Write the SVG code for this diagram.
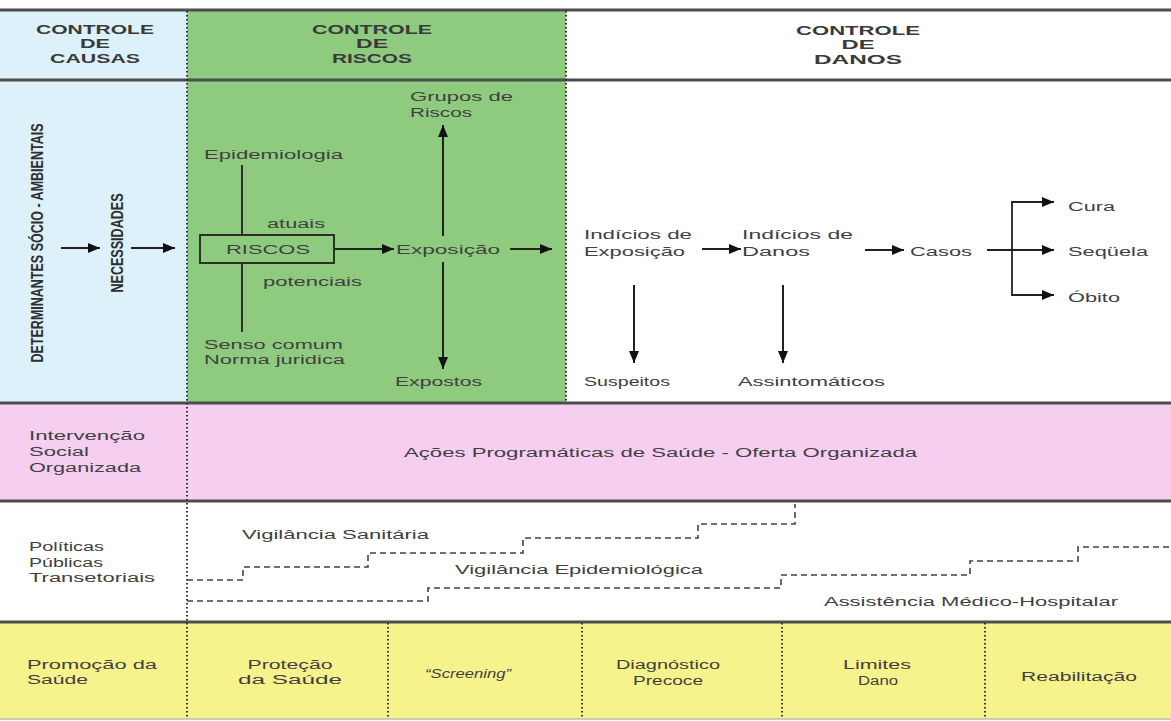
<svg xmlns="http://www.w3.org/2000/svg" width="1171" height="721" viewBox="0 0 1171 721">
<style>
.t{font-family:"Liberation Sans",Arial,sans-serif;font-size:12.5px;fill:#404040}
.h{font-family:"Liberation Sans",Arial,sans-serif;font-size:12px;font-weight:bold;fill:#3a3a3a}
.v{font-family:"Liberation Sans",Arial,sans-serif;font-size:17px;font-weight:bold;fill:#2e2e2e}
.m{text-anchor:middle}
.rule{stroke:#4d4d4d;stroke-width:3;fill:none}
.dot{stroke:#333;stroke-width:2;stroke-dasharray:1.5 2.5;fill:none}
.dash{stroke:#444;stroke-width:1.6;stroke-dasharray:6 4;fill:none}
.ar{stroke:#222;stroke-width:2;fill:none}
.ln{stroke:#222;stroke-width:1.8;fill:none}
</style>
<defs>
<marker id="ah" viewBox="0 0 12 10" refX="12" refY="5" markerWidth="14" markerHeight="10" markerUnits="userSpaceOnUse" orient="auto">
<path d="M0,0 L12,5 L0,10 z" fill="#111"/>
</marker>
</defs>
<rect x="0" y="0" width="1171" height="721" fill="#ffffff"/>
<g id="backgrounds">
<rect x="0" y="10" width="187" height="393" fill="#ddf1fa"/>
<rect x="187" y="10" width="379" height="393" fill="#8fcb7e"/>
<rect x="0" y="403" width="1171" height="98" fill="#f6cef0"/>
<rect x="0" y="622" width="1171" height="97" fill="#f7f38c"/>
</g>
<g id="rules">
<line class="rule" x1="0" y1="10" x2="1171" y2="10"/>
<line class="rule" x1="0" y1="80" x2="1171" y2="80"/>
<line class="rule" x1="0" y1="403" x2="1171" y2="403"/>
<line class="rule" x1="0" y1="501" x2="1171" y2="501"/>
<line class="rule" x1="0" y1="622" x2="1171" y2="622"/>
<line x1="0" y1="719" x2="1171" y2="719" stroke="#bdbdbd" stroke-width="1.5"/>
<line class="dot" x1="187" y1="11" x2="187" y2="719"/>
<line class="dot" x1="566" y1="11" x2="566" y2="402"/>
<line class="dot" x1="388" y1="623" x2="388" y2="719"/>
<line class="dot" x1="582" y1="623" x2="582" y2="719"/>
<line class="dot" x1="782" y1="623" x2="782" y2="719"/>
<line class="dot" x1="985" y1="623" x2="985" y2="719"/>
</g>
<g id="header-causas">
<text class="h m" x="95" y="34" textLength="118" lengthAdjust="spacingAndGlyphs">CONTROLE</text>
<text class="h m" x="95" y="48" textLength="30" lengthAdjust="spacingAndGlyphs">DE</text>
<text class="h m" x="95" y="63" textLength="90" lengthAdjust="spacingAndGlyphs">CAUSAS</text>
</g>
<g id="header-riscos">
<text class="h m" x="372" y="34" textLength="120" lengthAdjust="spacingAndGlyphs">CONTROLE</text>
<text class="h m" x="372" y="48" textLength="32" lengthAdjust="spacingAndGlyphs">DE</text>
<text class="h m" x="372" y="63" textLength="80" lengthAdjust="spacingAndGlyphs">RISCOS</text>
</g>
<g id="header-danos">
<text class="h m" x="858" y="35" textLength="124" lengthAdjust="spacingAndGlyphs">CONTROLE</text>
<text class="h m" x="858" y="49" textLength="33" lengthAdjust="spacingAndGlyphs">DE</text>
<text class="h m" x="858" y="64" textLength="88" lengthAdjust="spacingAndGlyphs">DANOS</text>
</g>
<g id="determinantes">
<text class="v m" transform="translate(37,243) rotate(-90)" x="0" y="6" textLength="239" lengthAdjust="spacingAndGlyphs">DETERMINANTES SÓCIO - AMBIENTAIS</text>
</g>
<g id="necessidades">
<text class="v m" transform="translate(117,243) rotate(-90)" x="0" y="6" textLength="99" lengthAdjust="spacingAndGlyphs">NECESSIDADES</text>
</g>
<g id="riscos">
<rect x="200" y="235" width="134" height="28" fill="none" stroke="#222" stroke-width="1.8"/>
<text class="t" x="226" y="254" textLength="84" lengthAdjust="spacingAndGlyphs" style="font-size:13px">RISCOS</text>
</g>
<g id="epidemiologia"><text class="t" x="204" y="159" textLength="139" lengthAdjust="spacingAndGlyphs">Epidemiologia</text></g>
<g id="atuais"><text class="t" x="267" y="228" textLength="58" lengthAdjust="spacingAndGlyphs">atuais</text></g>
<g id="potenciais"><text class="t" x="263" y="286" textLength="99" lengthAdjust="spacingAndGlyphs">potenciais</text></g>
<g id="senso">
<text class="t" x="204" y="349" textLength="139" lengthAdjust="spacingAndGlyphs">Senso comum</text>
<text class="t" x="204" y="364" textLength="141" lengthAdjust="spacingAndGlyphs">Norma juridica</text>
</g>
<g id="grupos">
<text class="t" x="410" y="101" textLength="103" lengthAdjust="spacingAndGlyphs">Grupos de</text>
<text class="t" x="410" y="117" textLength="62" lengthAdjust="spacingAndGlyphs">Riscos</text>
</g>
<g id="exposicao"><text class="t" x="396" y="254" textLength="104" lengthAdjust="spacingAndGlyphs">Exposição</text></g>
<g id="expostos"><text class="t" x="395" y="386" textLength="87" lengthAdjust="spacingAndGlyphs">Expostos</text></g>
<g id="indicios-exposicao">
<text class="t" x="584" y="239" textLength="108" lengthAdjust="spacingAndGlyphs">Indícios de</text>
<text class="t" x="584" y="256" textLength="101" lengthAdjust="spacingAndGlyphs">Exposição</text>
</g>
<g id="indicios-danos">
<text class="t" x="742" y="239" textLength="111" lengthAdjust="spacingAndGlyphs">Indícios de</text>
<text class="t" x="742" y="256" textLength="68" lengthAdjust="spacingAndGlyphs">Danos</text>
</g>
<g id="casos"><text class="t" x="910" y="256" textLength="62" lengthAdjust="spacingAndGlyphs">Casos</text></g>
<g id="cura"><text class="t" x="1068" y="211" textLength="47" lengthAdjust="spacingAndGlyphs">Cura</text></g>
<g id="sequela"><text class="t" x="1068" y="256" textLength="80" lengthAdjust="spacingAndGlyphs">Seqüela</text></g>
<g id="obito"><text class="t" x="1068" y="302" textLength="52" lengthAdjust="spacingAndGlyphs">Óbito</text></g>
<g id="suspeitos"><text class="t" x="584" y="386" textLength="86" lengthAdjust="spacingAndGlyphs">Suspeitos</text></g>
<g id="assintomaticos"><text class="t" x="738" y="386" textLength="147" lengthAdjust="spacingAndGlyphs">Assintomáticos</text></g>
<g id="intervencao">
<text class="t" x="29" y="440" textLength="116" lengthAdjust="spacingAndGlyphs">Intervenção</text>
<text class="t" x="29" y="456" textLength="60" lengthAdjust="spacingAndGlyphs">Social</text>
<text class="t" x="29" y="472" textLength="112" lengthAdjust="spacingAndGlyphs">Organizada</text>
</g>
<g id="acoes"><text class="t" x="404" y="457" textLength="513" lengthAdjust="spacingAndGlyphs">Ações Programáticas de Saúde - Oferta Organizada</text></g>
<g id="politicas">
<text class="t" x="29" y="551" textLength="75" lengthAdjust="spacingAndGlyphs">Políticas</text>
<text class="t" x="29" y="567" textLength="74" lengthAdjust="spacingAndGlyphs">Públicas</text>
<text class="t" x="29" y="582" textLength="126" lengthAdjust="spacingAndGlyphs">Transetoriais</text>
</g>
<g id="vig-sanitaria"><text class="t" x="242" y="539" textLength="187" lengthAdjust="spacingAndGlyphs">Vigilância Sanitária</text></g>
<g id="vig-epidemiologica"><text class="t" x="455" y="574" textLength="248" lengthAdjust="spacingAndGlyphs">Vigilância Epidemiológica</text></g>
<g id="assistencia"><text class="t" x="824" y="606" textLength="294" lengthAdjust="spacingAndGlyphs">Assistência Médico-Hospitalar</text></g>
<g id="promocao">
<text class="t" x="27" y="669" textLength="130" lengthAdjust="spacingAndGlyphs">Promoção da</text>
<text class="t" x="27" y="684" textLength="61" lengthAdjust="spacingAndGlyphs">Saúde</text>
</g>
<g id="protecao">
<text class="t m" x="290" y="669" textLength="85" lengthAdjust="spacingAndGlyphs">Proteção</text>
<text class="t m" x="290" y="684" textLength="104" lengthAdjust="spacingAndGlyphs">da Saúde</text>
</g>
<g id="screening"><text class="t m" x="468" y="678" textLength="86" lengthAdjust="spacingAndGlyphs" font-style="italic" style="font-size:13px">“Screening”</text></g>
<g id="diagnostico">
<text class="t m" x="668" y="669" textLength="104" lengthAdjust="spacingAndGlyphs">Diagnóstico</text>
<text class="t m" x="668" y="685" textLength="70" lengthAdjust="spacingAndGlyphs">Precoce</text>
</g>
<g id="limites">
<text class="t m" x="877" y="669" textLength="68" lengthAdjust="spacingAndGlyphs">Limites</text>
<text class="t m" x="878" y="685" textLength="40" lengthAdjust="spacingAndGlyphs">Dano</text>
</g>
<g id="reabilitacao"><text class="t m" x="1079" y="681" textLength="116" lengthAdjust="spacingAndGlyphs">Reabilitação</text></g>
<g id="connectors">
<line class="ar" x1="61" y1="248" x2="100" y2="248" marker-end="url(#ah)"/>
<line class="ar" x1="131" y1="248" x2="175" y2="248" marker-end="url(#ah)"/>
<line class="ln" x1="242" y1="165" x2="242" y2="235"/>
<line class="ln" x1="242" y1="263" x2="242" y2="332"/>
<line class="ar" x1="334" y1="249" x2="394" y2="249" marker-end="url(#ah)"/>
<line class="ar" x1="443" y1="236" x2="443" y2="125" marker-end="url(#ah)"/>
<line class="ar" x1="443" y1="262" x2="443" y2="369" marker-end="url(#ah)"/>
<line class="ar" x1="510" y1="249" x2="552" y2="249" marker-end="url(#ah)"/>
<line class="ar" x1="702" y1="249" x2="741" y2="249" marker-end="url(#ah)"/>
<line class="ar" x1="865" y1="250" x2="904" y2="250" marker-end="url(#ah)"/>
<line class="ar" x1="987" y1="250" x2="1054" y2="250" marker-end="url(#ah)"/>
<path class="ln" d="M1012,202 V295"/>
<line class="ar" x1="1011" y1="202" x2="1054" y2="202" marker-end="url(#ah)"/>
<line class="ar" x1="1011" y1="295" x2="1054" y2="295" marker-end="url(#ah)"/>
<line class="ar" x1="634" y1="285" x2="634" y2="363" marker-end="url(#ah)"/>
<line class="ar" x1="783" y1="285" x2="783" y2="363" marker-end="url(#ah)"/>
<path class="dash" d="M187,580 H243 V567 H368 V553 H523 V538 H698 V524 H795 V504"/>
<path class="dash" d="M187,601 H428 V588 H781 V575 H970 V561 H1078 V547 H1171"/>
</g>
</svg>
